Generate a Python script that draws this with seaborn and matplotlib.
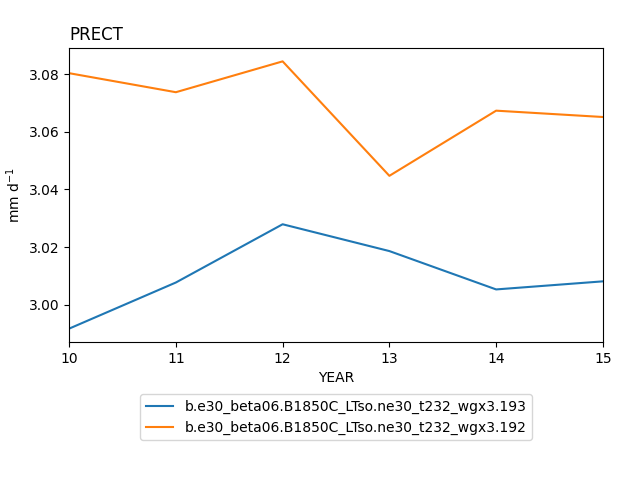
import matplotlib
matplotlib.use("Agg")
import matplotlib.pyplot as plt
import seaborn as sns
import pandas as pd

years = [10, 11, 12, 13, 14, 15]
case_193 = [2.9917, 3.0077, 3.0279, 3.0186, 3.0053, 3.0081]
case_192 = [3.0803, 3.0737, 3.0844, 3.0447, 3.0673, 3.0651]
names = ["b.e30_beta06.B1850C_LTso.ne30_t232_wgx3.193",
         "b.e30_beta06.B1850C_LTso.ne30_t232_wgx3.192"]

df = pd.concat([
    pd.DataFrame({"YEAR": years, "val": case_193, "case": names[0]}),
    pd.DataFrame({"YEAR": years, "val": case_192, "case": names[1]}),
])

fig = plt.figure(figsize=(6.4, 4.8), dpi=100)
ax = fig.add_axes([0.108, 0.2875, 0.834, 0.6125])
sns.lineplot(data=df, x="YEAR", y="val", hue="case", ax=ax,
             palette=["#1f77b4", "#ff7f0e"])
ax.set_xlim(10, 15)
ax.set_title("PRECT", loc="left")
ax.set_xlabel("YEAR")
ax.set_ylabel("mm d$^{-1}$")
h, l = ax.get_legend_handles_labels()
ax.get_legend().remove()
fig.legend(h, l, loc="upper center", bbox_to_anchor=(0.525, 0.194))
fig.savefig("out.png", dpi=100)
